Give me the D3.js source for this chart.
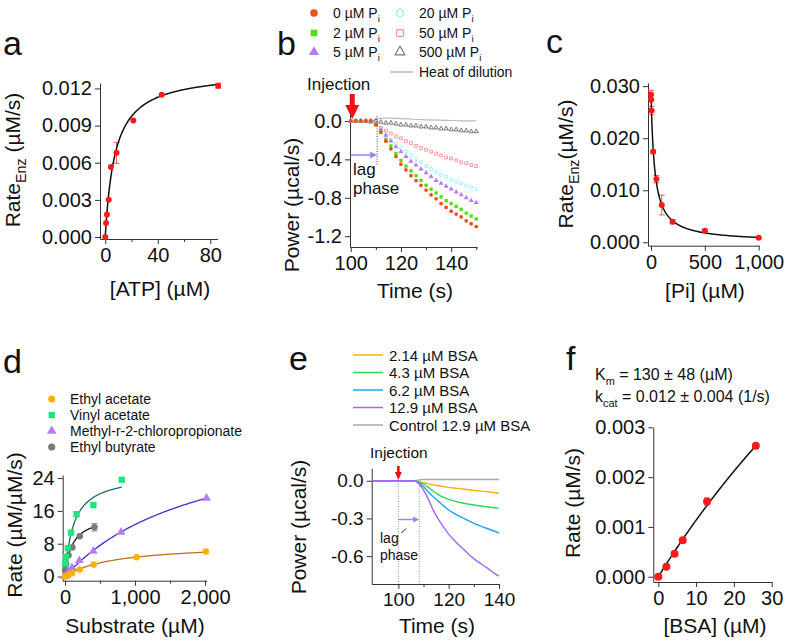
<!DOCTYPE html>
<html><head><meta charset="utf-8">
<script src="https://cdn.jsdelivr.net/npm/d3@7"></script>
<style>
body{margin:0;background:#fff;}
svg{display:block;font-family:"Liberation Sans",Arial,sans-serif;}
</style></head><body>
<svg id="fig" width="787" height="641"></svg>
<script>
// ---------------- DATA ----------------
// Panel a
const aATP = [0, 0.6, 1.3, 2.6, 4.3, 8.6, 21.4, 43, 86];
const aRate = [0, 0.00113, 0.00181, 0.00302, 0.00566, 0.0068, 0.00941, 0.01149, 0.01222];
const aErr = [0, 0, 0, 0, 0, 0.00085, 0, 0, 0.0002];
const aFit = {vmax: 0.0134, km: 7.5};
const aYTicks = [0, 0.003, 0.006, 0.009, 0.012];
const aYLabels = ["0.000", "0.003", "0.006", "0.009", "0.012"];
const aXTicks = [0, 40, 80];
const aXLabels = ["0", "40", "80"];
const aXMinor = [20, 60];

// Panel b
const bTime = [100,102,104,106,108,110,112,114,116,118,120,122,124,126,128,130,132,134,136,138,140,142,144,146,148,150];
const bP0   = [0,0,0,0,0,-0.04,-0.12,-0.21,-0.29,-0.37,-0.45,-0.51,-0.57,-0.62,-0.67,-0.72,-0.77,-0.81,-0.86,-0.90,-0.94,-0.97,-1.00,-1.04,-1.07,-1.10];
const bP2   = [0,0,0,0,0,-0.04,-0.11,-0.19,-0.26,-0.34,-0.41,-0.47,-0.52,-0.57,-0.62,-0.67,-0.71,-0.75,-0.79,-0.83,-0.86,-0.89,-0.92,-0.96,-0.99,-1.02];
const bP5   = [0,0,0,0,-0.01,-0.03,-0.09,-0.15,-0.21,-0.27,-0.32,-0.37,-0.42,-0.46,-0.50,-0.54,-0.58,-0.62,-0.65,-0.68,-0.71,-0.74,-0.77,-0.80,-0.83,-0.85];
const bP20  = [0,0,0,0,-0.01,-0.03,-0.08,-0.14,-0.19,-0.24,-0.28,-0.32,-0.36,-0.40,-0.43,-0.47,-0.50,-0.53,-0.56,-0.58,-0.61,-0.63,-0.65,-0.67,-0.69,-0.71];
const bP50  = [0,0,0,0,-0.01,-0.03,-0.07,-0.10,-0.13,-0.16,-0.18,-0.21,-0.23,-0.26,-0.28,-0.30,-0.32,-0.34,-0.36,-0.38,-0.39,-0.41,-0.43,-0.44,-0.46,-0.47];
const bP500 = [0,0,0,0,0,0,-0.01,-0.02,-0.02,-0.03,-0.04,-0.04,-0.05,-0.05,-0.06,-0.06,-0.07,-0.07,-0.08,-0.08,-0.09,-0.09,-0.10,-0.10,-0.11,-0.11];
const bDilTime = [100,108,110,112,115,120,125,130,135,140,145,150];
const bDil     = [0,0,0.015,0.03,0.03,0.025,0.018,0.012,0.008,0.005,0.002,0];
const bLegend = ["0 µM P", "2 µM P", "5 µM P", "20 µM P", "50 µM P", "500 µM P"];
const bYTicks = [0, -0.4, -0.8, -1.2];
const bYLabels = ["0.0", "-0.4", "-0.8", "-1.2"];
const bXTicks = [100, 120, 140];
const bXLabels = ["100", "120", "140"];
const bXMinor = [110, 130, 150];

// Panel c
const cPi = [0, 2, 5, 20, 50, 100, 200, 500, 1000];
const cRate = [0.0284, 0.0274, 0.0253, 0.0174, 0.01215, 0.00716, 0.00396, 0.00223, 0.00089];
const cErr = [0.0008, 0, 0.0008, 0.0003, 0.0007, 0.0019, 0.0004, 0.0002, 0.0001];
const cFit = {v0: 0.0284, ki: 34};
const cYTicks = [0, 0.01, 0.02, 0.03];
const cYLabels = ["0.000", "0.010", "0.020", "0.030"];
const cXTicks = [0, 500, 1000];
const cXLabels = ["0", "500", "1,000"];

// Panel d
const dNames = ["Ethyl acetate", "Vinyl acetate", "Methyl-r-2-chloropropionate", "Ethyl butyrate"];
const dEAx = [0, 50, 100, 210, 410, 1020, 2010];
const dEAy = [0, 0.4, 0.8, 1.7, 2.9, 4.7, 6.1];
const dVAx = [5, 12, 40, 85, 165, 405, 810];
const dVAy = [3.2, 4.8, 6.9, 10.7, 15.2, 17.4, 23.6];
const dMCx = [0, 50, 100, 205, 405, 800, 2020];
const dMCy = [0, 1.2, 2.2, 3.9, 6.2, 10.8, 19.1];
const dEBx = [5, 15, 50, 105, 210, 420];
const dEBy = [1.5, 3.0, 5.2, 7.1, 9.8, 12.0];
const dEBerr = [0, 0, 0, 0, 0, 0.9];
const dFits = [
  {vmax: 8, km: 700, xmax: 2010},
  {vmax: 25, km: 120, xmax: 810},
  {vmax: 38, km: 2000, xmax: 2020},
  {vmax: 15, km: 100, xmax: 420}
];
const dYTicks = [0, 8, 16, 24];
const dYLabels = ["0", "8", "16", "24"];
const dXTicks = [0, 1000, 2000];
const dXLabels = ["0", "1,000", "2,000"];
const dXMinor = [500, 1500];

// Panel e
const eTime = [90,100,104,106,107,108,109,110,112,114,116,118,120,122,125,128,130,132,135,138,140];
const eB214 = [0,0,0,0,-0.002,-0.006,-0.011,-0.016,-0.025,-0.033,-0.040,-0.047,-0.053,-0.058,-0.065,-0.072,-0.077,-0.081,-0.087,-0.095,-0.100];
const eB43  = [0,0,0,0,-0.003,-0.010,-0.018,-0.028,-0.055,-0.085,-0.112,-0.132,-0.148,-0.160,-0.175,-0.187,-0.193,-0.199,-0.207,-0.215,-0.220];
const eB62  = [0,0,0,0,-0.004,-0.015,-0.030,-0.048,-0.090,-0.130,-0.165,-0.200,-0.233,-0.258,-0.290,-0.320,-0.339,-0.355,-0.378,-0.400,-0.415];
const eB129 = [0,0,0,0,-0.005,-0.020,-0.045,-0.074,-0.150,-0.240,-0.310,-0.370,-0.425,-0.470,-0.530,-0.585,-0.620,-0.650,-0.690,-0.735,-0.760];
const eCtrl = [0,0,0,0,0.002,0.005,0.008,0.010,0.010,0.010,0.010,0.010,0.010,0.010,0.010,0.010,0.010,0.010,0.010,0.010,0.010];
const eLegend = ["2.14 µM BSA", "4.3 µM BSA", "6.2 µM BSA", "12.9 µM BSA", "Control 12.9 µM BSA"];
const eYTicks = [0, -0.3, -0.6];
const eYLabels = ["0.0", "-0.3", "-0.6"];
const eXTicks = [100, 120, 140];
const eXLabels = ["100", "120", "140"];
const eXMinor = [110, 130];

// Panel f
const fBSA = [0, 2.14, 4.3, 6.45, 12.9, 25.8];
const fRate = [0, 0.0002, 0.00046, 0.00073, 0.00151, 0.00263];
const fErr = [0, 0, 0, 0, 0.00007, 0];
const fFit = {vmax: 0.01588, km: 130};
const fYTicks = [0, 0.001, 0.002, 0.003];
const fYLabels = ["0.000", "0.001", "0.002", "0.003"];
const fXTicks = [0, 10, 20, 30];
const fXLabels = ["0", "10", "20", "30"];

// ---------------- DRAWING ----------------
const svg = d3.select("#fig");
svg.append("rect").attr("width", 787).attr("height", 641).attr("fill", "#fff");

const AXC = "#333";
function axes(x, y, o) {
  const g = svg.append("g");
  const x0 = x.range()[0], y0 = y.range()[0];
  const fs = o.fs || 20;
  const ya = d3.axisLeft(y).tickValues(o.yt).tickFormat((d, i) => o.yl[i]).tickSize(5).tickSizeOuter(0).tickPadding(3);
  g.append("g").attr("transform", `translate(${x0},0)`).call(ya);
  const xa = d3.axisBottom(x).tickValues(o.xt).tickFormat((d, i) => o.xl[i]).tickSize(5).tickSizeOuter(0).tickPadding(4);
  g.append("g").attr("transform", `translate(0,${y0})`).call(xa);
  if (o.xm) {
    g.append("g").attr("transform", `translate(0,${y0})`)
      .call(d3.axisBottom(x).tickValues(o.xm).tickFormat("").tickSize(3).tickSizeOuter(0))
      .select(".domain").remove();
  }
  g.selectAll(".domain, .tick line").attr("stroke", AXC).attr("stroke-width", 1);
  g.selectAll(".tick text").attr("font-size", fs).attr("fill", "#111")
    .attr("font-family", '"Liberation Sans",Arial,sans-serif');
  return g;
}
function label(x, y, txt, fs, anchor) {
  return svg.append("text").attr("x", x).attr("y", y).attr("font-size", fs)
    .attr("text-anchor", anchor || "start").attr("fill", "#111").text(txt);
}
function subText(x, y, parts, fs, anchor, rot) {
  const t = svg.append("text").attr("font-size", fs).attr("fill", "#111")
    .attr("text-anchor", anchor || "start");
  if (rot) t.attr("transform", `translate(${x},${y}) rotate(-90)`);
  else t.attr("x", x).attr("y", y);
  parts.forEach(p => {
    const s = t.append("tspan").text(p.t);
    if (p.sub) s.attr("font-size", fs * 0.68).attr("dy", fs * 0.3);
    if (p.up) s.attr("dy", -fs * 0.3);
  });
  return t;
}
function errBars(x, y, xs, ys, es, color, cap) {
  xs.forEach((xv, i) => {
    if (!es[i]) return;
    const px = x(xv), p1 = y(ys[i] - es[i]), p2 = y(ys[i] + es[i]);
    svg.append("line").attr("x1", px).attr("x2", px).attr("y1", p1).attr("y2", p2).attr("stroke", color).attr("stroke-width", 1);
    [p1, p2].forEach(pp => svg.append("line").attr("x1", px - cap).attr("x2", px + cap).attr("y1", pp).attr("y2", pp).attr("stroke", color).attr("stroke-width", 1));
  });
}
function fitLine(x, y, f, x0, x1, color, w) {
  const n = 200, pts = [];
  for (let i = 0; i <= n; i++) { const s = x0 + (x1 - x0) * i / n; pts.push([x(s), y(f(s))]); }
  svg.append("path").attr("d", d3.line()(pts)).attr("fill", "none").attr("stroke", color).attr("stroke-width", w || 1.5);
}
const RED = "#ff1a1a";

// ---- Panel a ----
{
  const x = d3.scaleLinear().domain([-4, 85.5]).range([100, 217.5]);
  const y = d3.scaleLinear().domain([-0.00016, 0.01244]).range([239, 83]);
  axes(x, y, {yt: aYTicks, yl: aYLabels, xt: aXTicks, xl: aXLabels, xm: aXMinor});
  errBars(x, y, aATP, aRate, aErr, "#ff5555", 3);
  fitLine(x, y, s => aFit.vmax * s / (aFit.km + s), 0, 86, "#111", 1.5);
  svg.append("g").selectAll("circle").data(aATP).join("circle")
    .attr("cx", d => x(d)).attr("cy", (d, i) => y(aRate[i])).attr("r", 3).attr("fill", RED);
  label(3, 55, "a", 34);
  subText(20, 160, [{t: "Rate"}, {t: "Enz", sub: true}, {t: " (µM/s)", up: true}], 21, "middle", true);
  label(160, 296, "[ATP] (µM)", 21, "middle");
}

// ---- Panel b ----
{
  const x = d3.scaleLinear().domain([99.7, 150.3]).range([350, 477]);
  const y = d3.scaleLinear().domain([-1.3125, 0.083]).range([247, 113]);
  axes(x, y, {yt: bYTicks, yl: bYLabels, xt: bXTicks, xl: bXLabels, xm: bXMinor});
  svg.append("path").attr("d", d3.line().x((d, i) => x(bDilTime[i])).y(d => y(d)).curve(d3.curveMonotoneX)(bDil))
    .attr("fill", "none").attr("stroke", "#bbb").attr("stroke-width", 1.2);
  const series = [
    {v: bP500, sym: d3.symbolTriangle, fill: "none", stroke: "#555"},
    {v: bP50, sym: d3.symbolSquare, fill: "none", stroke: "#ff8080"},
    {v: bP20, sym: d3.symbolCircle, fill: "none", stroke: "#80eeff"},
    {v: bP5, sym: d3.symbolTriangle, fill: "#b57cff", stroke: "none"},
    {v: bP2, sym: d3.symbolSquare, fill: "#55dd11", stroke: "none"},
    {v: bP0, sym: d3.symbolCircle, fill: "#ff4a1a", stroke: "none"}
  ];
  series.forEach(s => {
    svg.append("g").selectAll("path").data(s.v).join("path")
      .attr("transform", (d, i) => `translate(${x(bTime[i])},${y(d)})`)
      .attr("d", d3.symbol().type(s.sym).size(s.fill === "none" ? 8 : 11)())
      .attr("fill", s.fill).attr("stroke", s.stroke).attr("stroke-width", 0.8);
  });
  svg.append("line").attr("x1", x(110.5)).attr("x2", x(110.5)).attr("y1", 116).attr("y2", 166)
    .attr("stroke", "#444").attr("stroke-dasharray", "1,1.5").attr("stroke-width", 1);
  svg.append("line").attr("x1", x(100)).attr("x2", x(110.5) - 6).attr("y1", 155).attr("y2", 155).attr("stroke", "#8c8cff").attr("stroke-width", 1.5);
  svg.append("path").attr("d", `M${x(110.5)},155 L${x(110.5) - 7},151.5 L${x(110.5) - 7},158.5 Z`).attr("fill", "#8c8cff");
  const ax = x(100.6);
  svg.append("rect").attr("x", ax - 2.5).attr("y", 94).attr("width", 5).attr("height", 12).attr("fill", "#ee1111");
  svg.append("path").attr("d", `M${ax - 7},105 L${ax + 7},105 L${ax},119 Z`).attr("fill", "#ee1111");
  label(307, 90, "Injection", 17);
  label(353, 175, "lag", 17);
  label(353, 194, "phase", 17);
  label(277, 55, "b", 34);
  subText(299, 205, [{t: "Power (µcal/s)"}], 21, "middle", true);
  label(415, 298, "Time (s)", 21, "middle");
  const legSeries = [series[5], series[4], series[3], series[2], series[1], series[0]];
  const lx = [314, 314, 314, 400, 400, 400], ly = [13, 33, 52, 13, 33, 52];
  legSeries.forEach((s, i) => {
    svg.append("path").attr("transform", `translate(${lx[i]},${ly[i]})`)
      .attr("d", d3.symbol().type(s.sym).size(44)())
      .attr("fill", s.fill).attr("stroke", s.stroke).attr("stroke-width", 1);
    subText(lx[i] + 19, ly[i] + 5, [{t: bLegend[i]}, {t: "i", sub: true}], 14, "start");
  });
  svg.append("line").attr("x1", 390).attr("x2", 413).attr("y1", 72).attr("y2", 72).attr("stroke", "#aaa").attr("stroke-width", 1.2);
  label(419, 77, "Heat of dilution", 14);
}

// ---- Panel c ----
{
  const x = d3.scaleLinear().domain([-28, 1003]).range([648, 759]);
  const y = d3.scaleLinear().domain([-0.00065, 0.0306]).range([245.7, 83]);
  axes(x, y, {yt: cYTicks, yl: cYLabels, xt: cXTicks, xl: cXLabels});
  errBars(x, y, cPi, cRate, cErr, "#ff5555", 3);
  fitLine(x, y, s => cFit.v0 / (1 + s / cFit.ki), 0, 1000, "#111", 1.5);
  svg.append("g").selectAll("circle").data(cPi).join("circle")
    .attr("cx", d => x(d)).attr("cy", (d, i) => y(cRate[i])).attr("r", 3).attr("fill", RED);
  label(546, 53, "c", 34);
  subText(573, 164, [{t: "Rate"}, {t: "Enz", sub: true}, {t: "(µM/s)", up: true}], 21, "middle", true);
  label(705, 298, "[Pi] (µM)", 21, "middle");
}

// ---- Panel d ----
{
  const x = d3.scaleLinear().domain([-33, 2020]).range([62.7, 206.5]);
  const y = d3.scaleLinear().domain([-1.02, 24.75]).range([580.7, 475]);
  axes(x, y, {yt: dYTicks, yl: dYLabels, xt: dXTicks, xl: dXLabels, xm: dXMinor});
  const cols = ["#ffb000", "#1fe67a", "#b47cff", "#7a7a7a"];
  const lines = ["#b87418", "#1c6e60", "#4a2ad0", "#111"];
  const syms = [d3.symbolCircle, d3.symbolSquare, d3.symbolTriangle, d3.symbolCircle];
  const xs = [dEAx, dVAx, dMCx, dEBx], ys = [dEAy, dVAy, dMCy, dEBy];
  errBars(x, y, dEBx, dEBy, dEBerr, "#888", 3);
  dFits.forEach((f, k) => fitLine(x, y, s => f.vmax * s / (f.km + s), 0, f.xmax, lines[k], 1.3));
  [3, 2, 0, 1].forEach(k => {
    svg.append("g").selectAll("path").data(xs[k]).join("path")
      .attr("transform", (d, i) => `translate(${x(d)},${y(ys[k][i])})`)
      .attr("d", d3.symbol().type(syms[k]).size(k === 1 ? 40 : 34)())
      .attr("fill", cols[k]);
  });
  dNames.forEach((n, i) => {
    const cy = 399 + i * 16;
    svg.append("path").attr("transform", `translate(51.7,${cy})`)
      .attr("d", d3.symbol().type(syms[i]).size(40)()).attr("fill", cols[i]);
    label(70, cy + 5, n, 14);
  });
  label(3, 373, "d", 34);
  subText(22, 525, [{t: "Rate (µM/µM/s)"}], 21, "middle", true);
  label(135, 633, "Substrate (µM)", 21, "middle");
}

// ---- Panel e ----
{
  const x = d3.scaleLinear().domain([89.4, 140]).range([371.7, 499]);
  const y = d3.scaleLinear().domain([-0.822, 0.099]).range([584, 468.3]);
  axes(x, y, {yt: eYTicks, yl: eYLabels, xt: eXTicks, xl: eXLabels, xm: eXMinor, fs: 19});
  [100, 108.3].forEach(t => svg.append("line").attr("x1", x(t)).attr("x2", x(t)).attr("y1", 481).attr("y2", 584)
    .attr("stroke", "#8a8ab0").attr("stroke-dasharray", "1,1.5").attr("stroke-width", 1));
  const eSeries = [eB214, eB43, eB62, eB129, eCtrl];
  const eCols = ["#ffad00", "#22dd55", "#1ea6f0", "#a566ff", "#a8a8a8"];
  const ln = d3.line().x((d, i) => x(eTime[i])).y(d => y(d)).curve(d3.curveMonotoneX);
  [4, 0, 1, 2, 3].forEach(k => svg.append("path").attr("d", ln(eSeries[k])).attr("fill", "none")
    .attr("stroke", eCols[k]).attr("stroke-width", 1.4));
  svg.append("line").attr("x1", x(100)).attr("x2", x(108.3) - 5).attr("y1", 519.5).attr("y2", 519.5).attr("stroke", "#8c8cff").attr("stroke-width", 1.5);
  svg.append("path").attr("d", `M${x(108.3)},519.5 L${x(108.3) - 6},516.5 L${x(108.3) - 6},522.5 Z`).attr("fill", "#8c8cff");
  svg.append("line").attr("x1", 401.5).attr("y1", 533).attr("x2", 406).attr("y2", 528.5).attr("stroke", "#111").attr("stroke-width", 1);
  const ax = x(100);
  svg.append("rect").attr("x", ax - 1.3).attr("y", 466).attr("width", 2.6).attr("height", 7).attr("fill", "#ee1111");
  svg.append("path").attr("d", `M${ax - 3.5},472 L${ax + 3.5},472 L${ax},480 Z`).attr("fill", "#ee1111");
  label(370, 458, "Injection", 15.5);
  label(380, 543, "lag", 14);
  label(380, 559.5, "phase", 14);
  label(289, 370, "e", 34);
  subText(306, 527, [{t: "Power (µcal/s)"}], 21, "middle", true);
  label(437, 633, "Time (s)", 21, "middle");
  eLegend.forEach((n, i) => {
    const cy = 355 + i * 17.5;
    svg.append("line").attr("x1", 353).attr("x2", 383).attr("y1", cy).attr("y2", cy).attr("stroke", eCols[i]).attr("stroke-width", 1.5);
    label(389, cy + 5.5, n, 15);
  });
}

// ---- Panel f ----
{
  const x = d3.scaleLinear().domain([-1.32, 30]).range([653.3, 771.7]);
  const y = d3.scaleLinear().domain([-0.000106, 0.003]).range([582, 427.3]);
  axes(x, y, {yt: fYTicks, yl: fYLabels, xt: fXTicks, xl: fXLabels});
  errBars(x, y, fBSA, fRate, fErr, "#ff5555", 3);
  fitLine(x, y, s => fFit.vmax * s / (fFit.km + s), 0, 25.8, "#111", 1.5);
  svg.append("g").selectAll("circle").data(fBSA).join("circle")
    .attr("cx", d => x(d)).attr("cy", (d, i) => y(fRate[i])).attr("r", 4).attr("fill", RED);
  label(566, 370, "f", 34);
  subText(595, 380, [{t: "K"}, {t: "m", sub: true}, {t: " = 130 ± 48 (µM)", up: true}], 16, "start");
  subText(595, 401.7, [{t: "k"}, {t: "cat", sub: true}, {t: " = 0.012 ± 0.004 (1/s)", up: true}], 16, "start");
  subText(580, 503, [{t: "Rate (µM/s)"}], 21, "middle", true);
  label(715, 633, "[BSA] (µM)", 21, "middle");
}
</script></body></html>
